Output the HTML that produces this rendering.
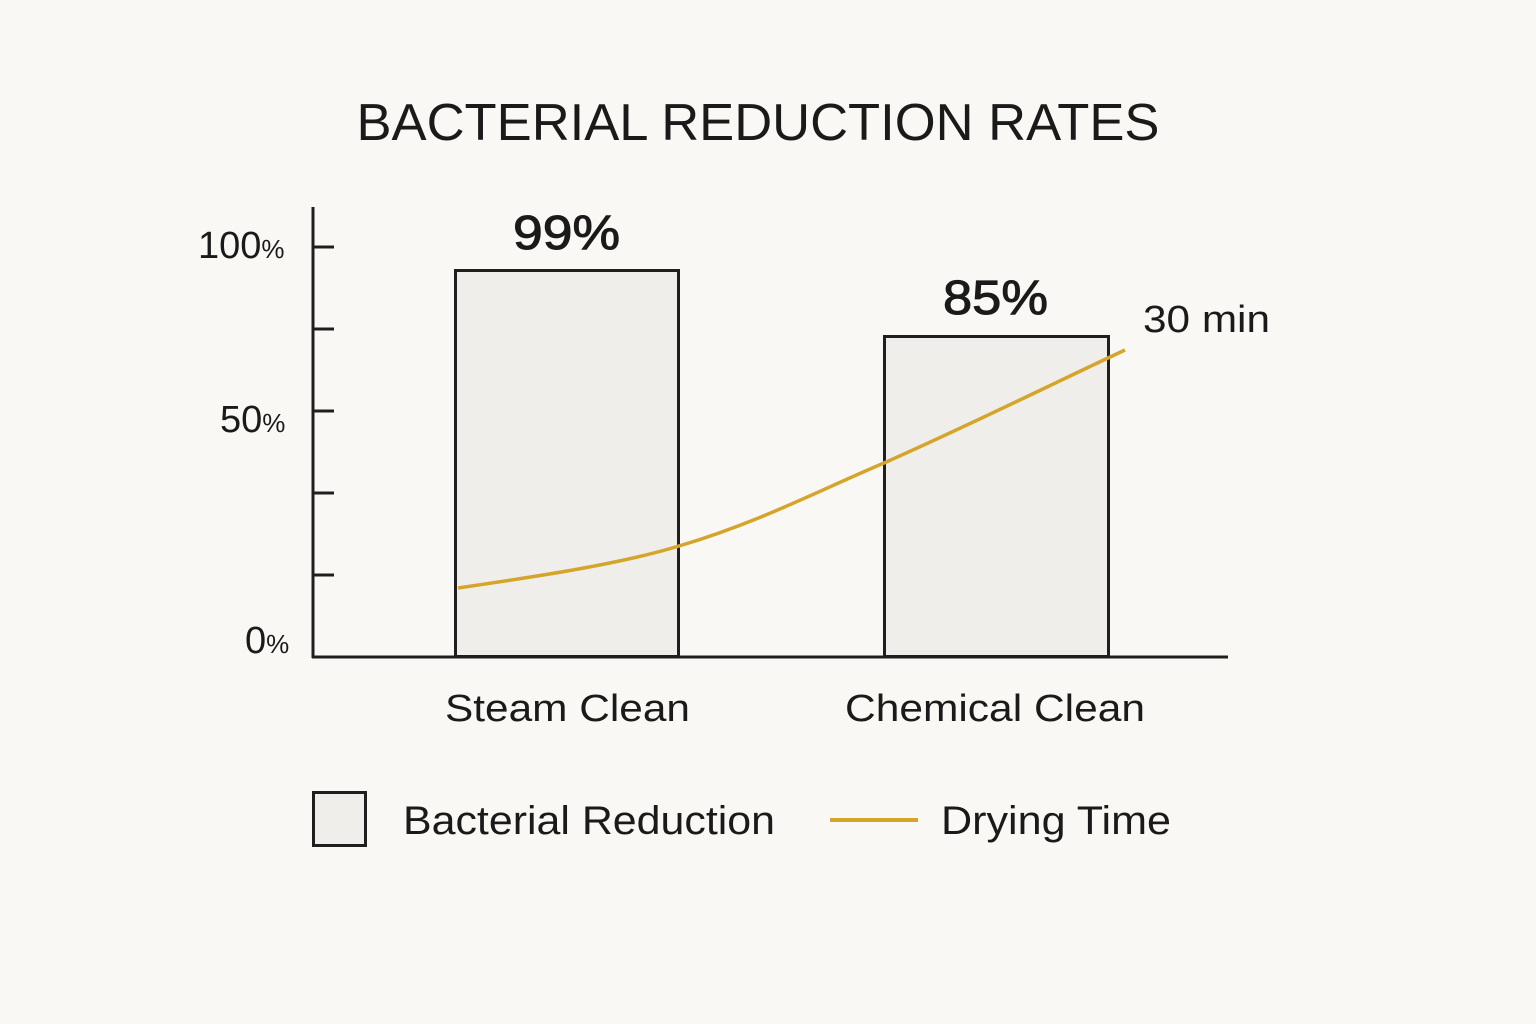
<!DOCTYPE html>
<html><head><meta charset="utf-8"><style>
html,body{margin:0;padding:0;background:#f9f8f4;}
svg{display:block;}
text{font-family:"Liberation Sans","DejaVu Sans",sans-serif;fill:#1a1a1a;}
</style></head><body>
<svg width="1536" height="1024" viewBox="0 0 1536 1024" xmlns="http://www.w3.org/2000/svg">
<rect width="1536" height="1024" fill="#f9f8f4"/>
<text x="758" y="140" font-size="52" text-anchor="middle" textLength="803" lengthAdjust="spacingAndGlyphs">BACTERIAL REDUCTION RATES</text>
<g stroke="#1f1f1f" stroke-width="3" fill="none">
<line x1="313" y1="207" x2="313" y2="658"/>
<line x1="312" y1="657" x2="1228" y2="657"/>
<line x1="313" y1="247" x2="334" y2="247"/>
<line x1="313" y1="329" x2="334" y2="329"/>
<line x1="313" y1="411" x2="334" y2="411"/>
<line x1="313" y1="493" x2="334" y2="493"/>
<line x1="313" y1="575" x2="334" y2="575"/>
</g>
<text x="198" y="258" font-size="38">100<tspan font-size="26">%</tspan></text>
<text x="220" y="432" font-size="38">50<tspan font-size="26">%</tspan></text>
<text x="245" y="653" font-size="38">0<tspan font-size="26">%</tspan></text>
<rect x="455.5" y="270.5" width="223" height="386" fill="#efeeea" stroke="#1f1f1f" stroke-width="3"/>
<rect x="884.5" y="336.5" width="224" height="320" fill="#efeeea" stroke="#1f1f1f" stroke-width="3"/>
<text x="513" y="249" font-size="48" stroke="#1a1a1a" stroke-width="1" textLength="107" lengthAdjust="spacingAndGlyphs">99%</text>
<text x="943" y="314" font-size="48" stroke="#1a1a1a" stroke-width="1" textLength="105" lengthAdjust="spacingAndGlyphs">85%</text>
<path d="M458 588 C540 576 620 564 679 546 C760 522 820 490 884 463 C970 425 1050 385 1125 350" stroke="#d4a52a" stroke-width="3.5" fill="none"/>
<text x="1143" y="332" font-size="38" textLength="127" lengthAdjust="spacingAndGlyphs">30 min</text>
<text x="445" y="721" font-size="38" textLength="245" lengthAdjust="spacingAndGlyphs">Steam Clean</text>
<text x="845" y="721" font-size="38" textLength="300" lengthAdjust="spacingAndGlyphs">Chemical Clean</text>
<rect x="313.5" y="792.5" width="52" height="53" fill="#efeeea" stroke="#1f1f1f" stroke-width="3"/>
<text x="403" y="834" font-size="40" textLength="372" lengthAdjust="spacingAndGlyphs">Bacterial Reduction</text>
<line x1="830" y1="820" x2="918" y2="820" stroke="#d4a52a" stroke-width="4"/>
<text x="941" y="834" font-size="40" textLength="230" lengthAdjust="spacingAndGlyphs">Drying Time</text>
</svg>
</body></html>
